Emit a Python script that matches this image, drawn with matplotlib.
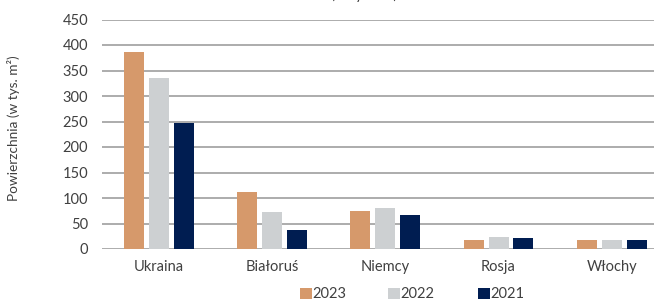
import matplotlib
matplotlib.use("Agg")
import matplotlib.pyplot as plt
import numpy as np
from matplotlib.patches import Rectangle

categories = ["Ukraina", "Białoruś", "Niemcy", "Rosja", "Włochy"]
series_names = ["2023", "2022", "2021"]
v2023 = [387, 111, 74, 17, 17]
v2022 = [336, 72, 80, 23, 17]
v2021 = [247, 38, 66, 21, 17]
yticks = [0, 50, 100, 150, 200, 250, 300, 350, 400, 450]

colors = ["#D6996B", "#CDD0D2", "#001D51"]
txt = "#404040"
plt.rcParams['font.family'] = ['Lato', 'DejaVu Sans']

W, H = 654, 301
fig = plt.figure(figsize=(W/100, H/100), dpi=100)
ax = fig.add_axes([102/W, 1-249/H, 566.5/W, (249-19.5)/H])

x = np.arange(len(categories))
w = 0.1765
off = 0.22
for i, (vals, c) in enumerate(zip([v2023, v2022, v2021], colors)):
    ax.bar(x + (i-1)*off, vals, width=w, color=c, zorder=3)

ax.set_xlim(-0.5, len(categories)-0.5)
ax.set_ylim(0, 450)
ax.set_yticks(yticks)
ax.set_xticks(x)
ax.set_xticklabels(categories)
ax.yaxis.grid(True, color="#A6A6A6", linewidth=1.3, zorder=0)
ax.set_axisbelow(True)
for s in ax.spines.values():
    s.set_visible(False)
ax.tick_params(axis='both', length=0, labelsize=10.5, colors=txt)
ax.tick_params(axis='y', pad=10)
ax.tick_params(axis='x', pad=8)

fig.text(14/W, 1-128/H, "Powierzchnia (w tys. m²)", rotation=90, ha='center', va='center',
         fontsize=9.8, color=txt)

# title, mostly cut off at the top edge (only descenders visible, as in the reference)
fig.text(397/W, 1+1.0/H, "(w tys. m²)", ha='right', va='baseline', fontsize=10.5, color=txt)

# legend drawn manually
leg_x = [300, 388, 478]
for lx, name, c in zip(leg_x, series_names, colors):
    fig.patches.append(Rectangle((lx/W, 1-299/H), 11.5/W, 11.5/H, transform=fig.transFigure,
                                 facecolor=c, edgecolor='none'))
    fig.text((lx+12.5)/W, 1-293.5/H, name, ha='left', va='center', fontsize=10.5, color=txt)

fig.savefig("out.png", dpi=100)
